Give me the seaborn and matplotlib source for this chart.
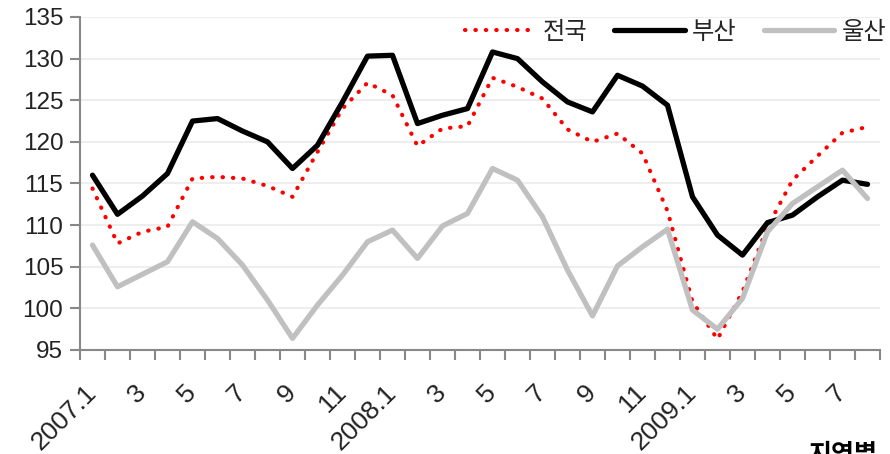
import numpy as np
import pandas as pd
import matplotlib
matplotlib.use("Agg")
import matplotlib.pyplot as plt
import seaborn as sns

# months 2007.1 ~ 2009.8
months = (["2007.1"] + [str(m) for m in range(2, 13)]
          + ["2008.1"] + [str(m) for m in range(2, 13)]
          + ["2009.1"] + [str(m) for m in range(2, 9)])

national = [114.4, 107.8, 109.2, 109.8, 115.6, 115.8, 115.6, 114.7, 113.4, 118.8,
            124.0, 127.1, 125.6, 119.5, 121.6, 121.9, 127.7, 126.6, 125.2, 121.5,
            120.0, 121.0, 118.6, 111.7, 100.8, 96.3, 102.0, 109.8, 115.4, 118.3,
            121.1, 121.8]
busan = [116.0, 111.3, 113.5, 116.2, 122.5, 122.8, 121.3, 120.0, 116.8, 119.6,
         124.8, 130.3, 130.4, 122.2, 123.2, 124.0, 130.8, 130.0, 127.2, 124.8,
         123.6, 128.0, 126.7, 124.4, 113.4, 108.8, 106.4, 110.3, 111.2, 113.4,
         115.4, 114.9]
ulsan = [107.6, 102.6, 104.1, 105.6, 110.4, 108.4, 105.2, 101.0, 96.4, 100.4,
         104.0, 108.0, 109.4, 106.0, 109.9, 111.4, 116.8, 115.4, 111.0, 104.6,
         99.1, 105.1, 107.4, 109.5, 99.8, 97.5, 101.2, 109.2, 112.6, 114.6,
         116.6, 113.2]

series_names = ["전국", "부산", "울산"]

sns.set_theme(style="white")
plt.rcParams["font.family"] = ["Liberation Sans", "Noto Sans CJK KR", "DejaVu Sans"]

x = np.arange(len(months))
fig = plt.figure(figsize=(8.9, 4.54), dpi=100)
ax = fig.add_axes([80 / 890, 1 - 350 / 454, 800 / 890, 333 / 454])

sns.lineplot(x=x, y=national, ax=ax, color="#ff0000", linewidth=3,
             linestyle=(0, (0.1, 2.4)), dash_capstyle="round",
             label=series_names[0], zorder=3)
sns.lineplot(x=x, y=busan, ax=ax, color="black", linewidth=3.8,
             solid_joinstyle="round", solid_capstyle="round",
             label=series_names[1], zorder=4)
sns.lineplot(x=x, y=ulsan, ax=ax, color="#c0c0c0", linewidth=3.8,
             solid_joinstyle="round", solid_capstyle="round",
             label=series_names[2], zorder=5)

ax.set_ylim(95, 135)
ax.set_yticks(range(95, 136, 5))
ax.set_xlim(-0.5, len(months) - 0.5)
ax.set_xticks(x[::2])
ax.set_xticklabels(months[::2], rotation=45, ha="right", va="center",
                   rotation_mode="anchor", fontsize=19)
ax.set_xticks(np.arange(len(months) + 1) - 0.5, minor=True)
ax.tick_params(axis="x", which="major", length=0, pad=28)
ax.tick_params(axis="x", which="minor", length=7, width=1.5,
               color="#888888", direction="out", bottom=True)
ax.tick_params(axis="y", length=7, width=1.5, color="#888888",
               direction="out", left=True, labelsize=17.5, pad=5)
for lab in ax.get_yticklabels() + ax.get_xticklabels():
    lab.set_color("#222222")

ax.grid(axis="y", color="#eeeeee", linewidth=1.5)
ax.set_axisbelow(True)
sns.despine(ax=ax)
for s in ["left", "bottom"]:
    ax.spines[s].set_color("#888888")
    ax.spines[s].set_linewidth(1.5)

ax.legend(loc="upper right", bbox_to_anchor=(1.02, 1.015), ncol=3,
          frameon=False, fontsize=17.5, handlelength=2.9,
          handletextpad=0.3, columnspacing=1.1, borderaxespad=0)

fig.text(808 / 890, 1 - 443 / 454, "지역별", fontsize=18,
         fontweight="bold", va="top", ha="left", color="black")

fig.savefig("out.png", dpi=100)
